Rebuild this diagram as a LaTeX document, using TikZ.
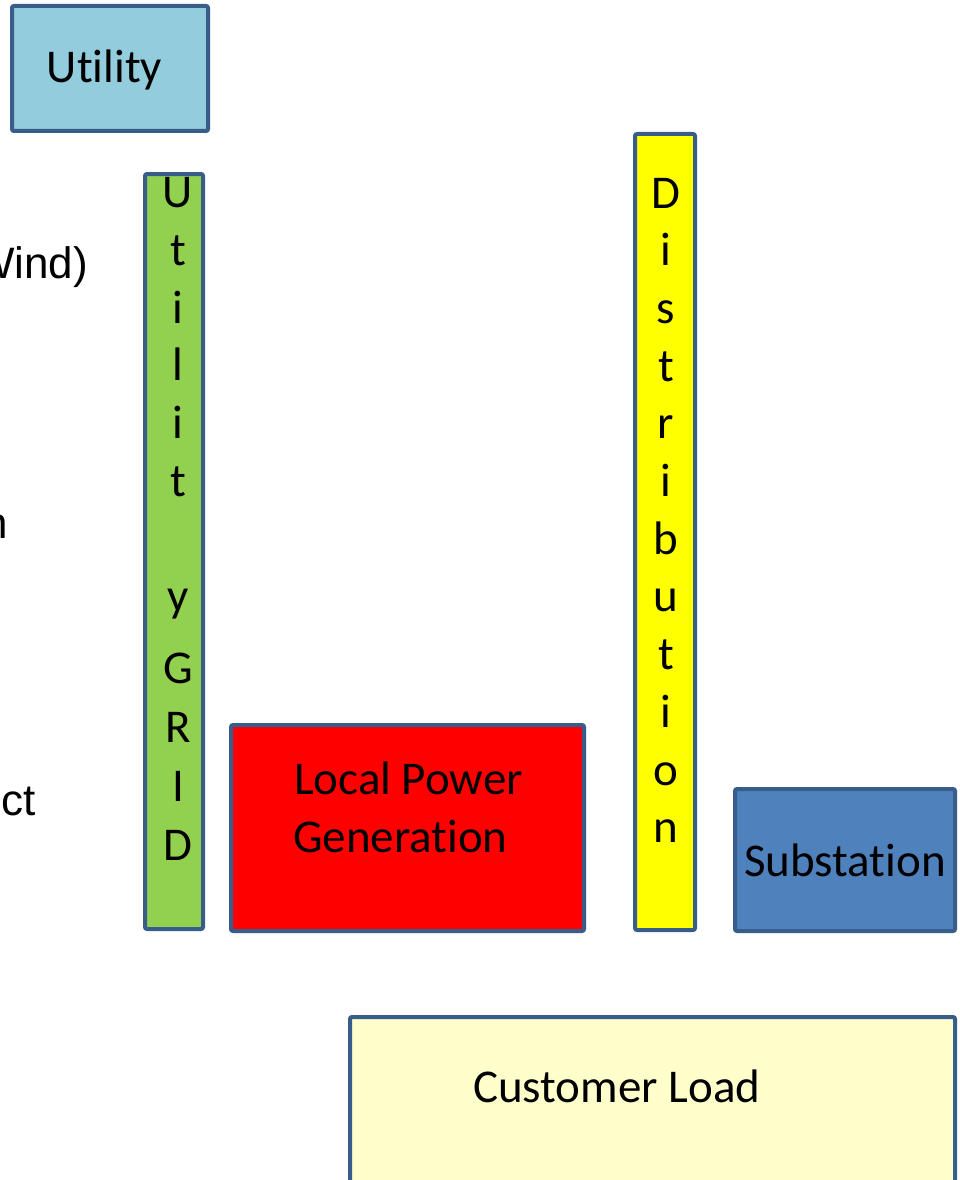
\documentclass[tikz,border=0pt]{standalone}
\usepackage{fontspec}
\setmainfont{Carlito}[Ligatures=NoCommon]
\newfontfamily\arialf{Liberation Sans}
\definecolor{edge}{RGB}{56,93,138}
\definecolor{utilfill}{RGB}{147,205,221}
\definecolor{gridfill}{RGB}{146,208,80}
\definecolor{genfill}{RGB}{255,0,0}
\definecolor{distfill}{RGB}{255,255,0}
\definecolor{subfill}{RGB}{79,129,189}
\definecolor{loadfill}{RGB}{255,255,204}
\begin{document}
\begin{tikzpicture}[x=1pt,y=-1pt,
  block/.style={draw=edge, line width=4pt, rounded corners=2pt, inner sep=0pt, outer sep=0pt},
  lbl/.style={font=\fontsize{47}{57.5}\selectfont, inner sep=0pt, outer sep=0pt},
  side/.style={font=\arialf\fontsize{44}{52}\selectfont, inner sep=0pt, outer sep=0pt, anchor=base east}]
\useasboundingbox (0,0) rectangle (959,1180);
\fill[white] (0,0) rectangle (959,1180);

% boxes
\draw[block, fill=utilfill] (12,6) rectangle (208,131);
\node[lbl, anchor=base] (utiltxt) at (104.5,83) {Utility};

\draw[block, fill=gridfill] (145,174) rectangle (203,929);
\draw[block, fill=genfill] (231,725) rectangle (584,931);
\draw[block, fill=distfill] (635,134) rectangle (695,930);
\draw[block, fill=subfill] (735,789) rectangle (955,931);
\draw[block, fill=loadfill] (350,1017) rectangle (955,1260);

% box labels
\node[lbl, anchor=base west] (gen1) at (294,794) {Local Power};
\node[lbl, anchor=base west] (gen2) at (293,852) {Generation};
\node[lbl, anchor=base west] (subtxt) at (744,876) {Substation};
\node[lbl, anchor=base west] (loadtxt) at (473,1102) {Customer Load};

% vertical lettering of the grid column
\foreach \ch/\yy [count=\i] in {U/207, t/265, i/323, l/380, i/438, t/496, y/611, G/683, R/742, I/801, D/860}
  \node[lbl, anchor=base] (grid\i) at (178,\yy) {\ch};

% vertical lettering of the distribution column
\foreach \ch [count=\i from 0] in {D,i,s,t,r,i,b,u,t,i,o,n}
  \node[lbl, anchor=base] (dist\i) at (666,{208+57.7*\i}) {\ch};

% text running in from the left edge
\node[side] (wind) at (88,278) {Wind)};
\node[side] (left2) at (8,538) {n};
\node[side] (left3) at (36,815) {ct};
\end{tikzpicture}
\end{document}
